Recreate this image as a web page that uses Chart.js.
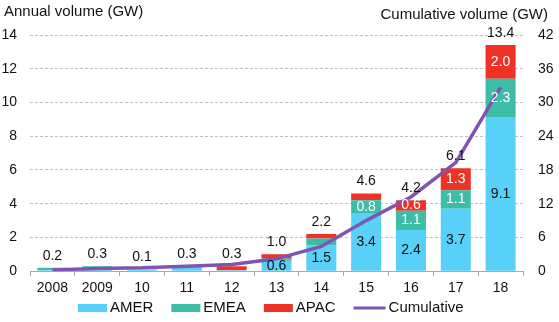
<!DOCTYPE html>
<html>
<head>
<meta charset="utf-8">
<script src="https://cdn.jsdelivr.net/npm/chart.js@4"></script>
<style>
  html, body { margin: 0; padding: 0; background: #fff; }
  #wrap { width: 559px; height: 322px; }
</style>
</head>
<body>
<div id="wrap"><canvas id="volChart"></canvas></div>
<script>
var years = ["2008", "2009", "10", "11", "12", "13", "14", "15", "16", "17", "18"];
var amer = [0.05, 0.12, 0.1, 0.3, 0.05, 0.62, 1.52, 3.4, 2.44, 3.7, 9.1];
var emea = [0.15, 0.18, 0, 0, 0, 0.14, 0.42, 0.8, 1.14, 1.1, 2.3];
var apac = [0, 0, 0, 0, 0.25, 0.24, 0.26, 0.4, 0.62, 1.3, 2.0];
var cumulative = [0.2, 0.5, 0.6, 0.9, 1.2, 2.2, 4.4, 9.0, 13.2, 19.3, 32.7];
var leftTicks = [0, 2, 4, 6, 8, 10, 12, 14];
var rightTicks = [0, 6, 12, 18, 24, 30, 36, 42];

var FONT = "'Liberation Sans', Arial, sans-serif";

// segment values, stack totals, axis titles and the legend row
var labelPlugin = {
  id: 'barLabels',
  afterDatasetsDraw: function(chart) {
    var ctx = chart.ctx;
    ctx.save();
    ctx.font = '14px ' + FONT;
    ctx.textAlign = 'center';
    ctx.textBaseline = 'middle';
    var segColors = ['#111', '#fff', '#fff'];
    for (var d = 0; d < 3; d++) {
      var meta = chart.getDatasetMeta(d);
      var vals = chart.data.datasets[d].data;
      meta.data.forEach(function(bar, i) {
        if (vals[i] < 0.5) return;
        ctx.fillStyle = segColors[d];
        ctx.fillText(vals[i].toFixed(1), bar.x, (bar.y + bar.base) / 2);
      });
    }
    var bars = chart.getDatasetMeta(0).data;
    years.forEach(function(y, i) {
      var total = amer[i] + emea[i] + apac[i];
      var yPix = chart.scales.y.getPixelForValue(total);
      ctx.fillStyle = '#111';
      ctx.fillText(total.toFixed(1), bars[i].x, yPix - 12);
    });
    ctx.restore();
  },
  afterDraw: function(chart) {
    var ctx = chart.ctx;
    ctx.save();
    ctx.font = '15px ' + FONT;
    ctx.fillStyle = '#111';
    ctx.textBaseline = 'middle';
    ctx.textAlign = 'left';
    ctx.fillText('Annual volume (GW)', 4, 12);
    ctx.textAlign = 'right';
    ctx.fillText('Cumulative volume (GW)', 548, 15);

    // legend
    var sets = chart.data.datasets;
    var boxW = 29, gapText = 3, gapItem = 18, yMid = 308;
    var widths = sets.map(function(s) { return boxW + gapText + ctx.measureText(s.label).width; });
    var total = widths.reduce(function(a, b) { return a + b; }, 0) + gapItem * (sets.length - 1);
    var x = Math.round(269 - total / 2);
    ctx.textAlign = 'left';
    sets.forEach(function(s, i) {
      if (s.type === 'line') {
        ctx.strokeStyle = s.borderColor;
        ctx.lineWidth = 3;
        ctx.beginPath();
        ctx.moveTo(x, yMid);
        ctx.lineTo(x + boxW + 3, yMid);
        ctx.stroke();
        ctx.fillStyle = '#111';
        ctx.fillText(s.label, x + boxW + 3 + gapText, yMid);
        x += widths[i] + 3 + gapItem;
      } else {
        ctx.fillStyle = s.backgroundColor;
        ctx.fillRect(x, yMid - 4, boxW, 8);
        ctx.fillStyle = '#111';
        ctx.fillText(s.label, x + boxW + gapText, yMid);
        x += widths[i] + gapItem;
      }
    });
    ctx.restore();
  }
};

new Chart(document.getElementById('volChart'), {
  type: 'bar',
  data: {
    labels: years,
    datasets: [
      { label: 'AMER', data: amer, backgroundColor: '#58D0F7', stack: 's', yAxisID: 'y', order: 1 },
      { label: 'EMEA', data: emea, backgroundColor: '#3DBDA6', stack: 's', yAxisID: 'y', order: 1 },
      { label: 'APAC', data: apac, backgroundColor: '#EE3226', stack: 's', yAxisID: 'y', order: 1 },
      {
        type: 'line', label: 'Cumulative', data: cumulative, yAxisID: 'y2', order: 0,
        borderColor: '#7E56B2', backgroundColor: '#7E56B2', borderWidth: 3.5,
        pointRadius: 0, tension: 0
      }
    ]
  },
  options: {
    responsive: true,
    maintainAspectRatio: false,
    animation: false,
    layout: { padding: { top: 35, left: 0, right: 0, bottom: 21 } },
    datasets: { bar: { barPercentage: 0.67, categoryPercentage: 1 } },
    plugins: {
      tooltip: { enabled: false },
      legend: { display: false }
    },
    scales: {
      x: {
        stacked: true,
        grid: { display: true, drawOnChartArea: false, offset: true, tickLength: 5, color: '#aaa' },
        border: { color: '#aaa' },
        ticks: { color: '#111', font: { size: 14, family: FONT }, padding: 4, maxRotation: 0 }
      },
      y: {
        stacked: true, position: 'left', min: 0, max: 14,
        afterBuildTicks: function(s) { s.ticks = leftTicks.map(function(v) { return { value: v }; }); },
        afterFit: function(s) { s.width = 30; },
        grid: { color: '#c2c2c2', drawTicks: false },
        border: { display: false, dash: [3, 2] },
        ticks: { color: '#111', font: { size: 14, family: FONT }, padding: 13 }
      },
      y2: {
        position: 'right', min: 0, max: 42,
        afterBuildTicks: function(s) { s.ticks = rightTicks.map(function(v) { return { value: v }; }); },
        afterFit: function(s) { s.width = 36; },
        grid: { display: false },
        border: { display: false },
        ticks: { color: '#111', font: { size: 14, family: FONT }, padding: 7 }
      }
    }
  },
  plugins: [labelPlugin]
});
</script>
</body>
</html>
